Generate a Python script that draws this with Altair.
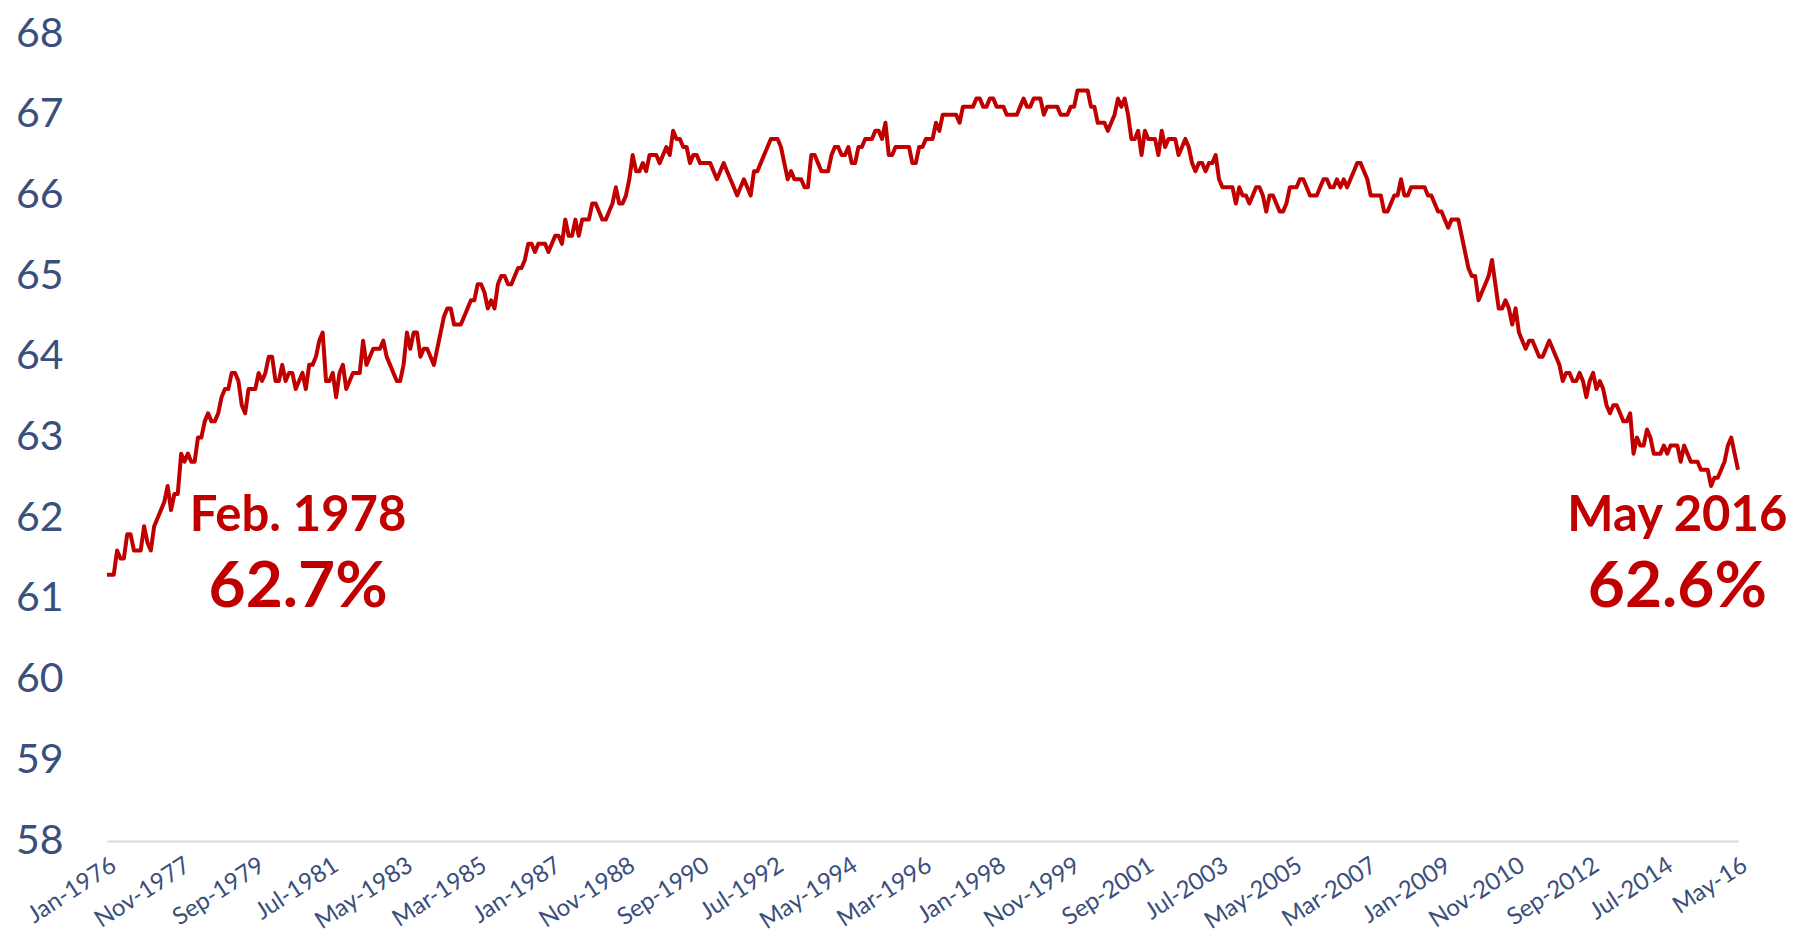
import altair as alt
import pandas as pd

# Civilian labor force participation rate (%), monthly, Jan 1976 - May 2016
RATE_1976_1979 = [
    61.3, 61.3, 61.3, 61.6, 61.5, 61.5, 61.8, 61.8, 61.6, 61.6, 61.6, 61.9,
    61.7, 61.6, 61.9, 62.0, 62.1, 62.2, 62.4, 62.1, 62.3, 62.3, 62.8, 62.7,
    62.8, 62.7, 62.7, 63.0, 63.0, 63.2, 63.3, 63.2, 63.2, 63.3, 63.5, 63.6,
    63.6, 63.8, 63.8, 63.7, 63.4, 63.3, 63.6, 63.6, 63.6, 63.8, 63.7, 63.8,
]
RATE_1980_1989 = [
    64.0, 64.0, 63.7, 63.7, 63.9, 63.7, 63.8, 63.8, 63.6, 63.7, 63.8, 63.6,
    63.9, 63.9, 64.0, 64.2, 64.3, 63.7, 63.7, 63.8, 63.5, 63.8, 63.9, 63.6,
    63.7, 63.8, 63.8, 63.8, 64.2, 63.9, 64.0, 64.1, 64.1, 64.1, 64.2, 64.0,
    63.9, 63.8, 63.7, 63.7, 63.9, 64.3, 64.1, 64.3, 64.3, 64.0, 64.1, 64.1,
    64.0, 63.9, 64.1, 64.3, 64.5, 64.6, 64.6, 64.4, 64.4, 64.4, 64.5, 64.6,
    64.7, 64.7, 64.9, 64.9, 64.8, 64.6, 64.7, 64.6, 64.9, 65.0, 65.0, 64.9,
    64.9, 65.0, 65.1, 65.1, 65.2, 65.4, 65.4, 65.3, 65.4, 65.4, 65.4, 65.3,
    65.4, 65.5, 65.5, 65.4, 65.7, 65.5, 65.5, 65.7, 65.5, 65.7, 65.7, 65.7,
    65.9, 65.9, 65.8, 65.7, 65.7, 65.8, 65.9, 66.1, 65.9, 65.9, 66.0, 66.2,
    66.5, 66.3, 66.3, 66.4, 66.3, 66.5, 66.5, 66.5, 66.4, 66.5, 66.6, 66.5,
]
RATE_1990_1999 = [
    66.8, 66.7, 66.7, 66.6, 66.6, 66.4, 66.5, 66.5, 66.4, 66.4, 66.4, 66.4,
    66.3, 66.2, 66.3, 66.4, 66.3, 66.2, 66.1, 66.0, 66.1, 66.2, 66.1, 66.0,
    66.3, 66.3, 66.4, 66.5, 66.6, 66.7, 66.7, 66.7, 66.6, 66.4, 66.2, 66.3,
    66.2, 66.2, 66.2, 66.1, 66.1, 66.5, 66.5, 66.4, 66.3, 66.3, 66.3, 66.5,
    66.6, 66.6, 66.5, 66.5, 66.6, 66.4, 66.4, 66.6, 66.6, 66.7, 66.7, 66.7,
    66.8, 66.8, 66.7, 66.9, 66.5, 66.5, 66.6, 66.6, 66.6, 66.6, 66.6, 66.4,
    66.4, 66.6, 66.6, 66.7, 66.7, 66.7, 66.9, 66.8, 67.0, 67.0, 67.0, 67.0,
    67.0, 66.9, 67.1, 67.1, 67.1, 67.1, 67.2, 67.2, 67.1, 67.1, 67.2, 67.2,
    67.1, 67.1, 67.1, 67.0, 67.0, 67.0, 67.0, 67.1, 67.2, 67.1, 67.1, 67.2,
    67.2, 67.2, 67.0, 67.1, 67.1, 67.1, 67.1, 67.0, 67.0, 67.0, 67.1, 67.1,
]
RATE_2000_2009 = [
    67.3, 67.3, 67.3, 67.3, 67.1, 67.1, 66.9, 66.9, 66.9, 66.8, 66.9, 67.0,
    67.2, 67.1, 67.2, 67.0, 66.7, 66.7, 66.8, 66.5, 66.8, 66.7, 66.7, 66.7,
    66.5, 66.8, 66.6, 66.7, 66.7, 66.7, 66.5, 66.6, 66.7, 66.6, 66.4, 66.3,
    66.4, 66.4, 66.3, 66.4, 66.4, 66.5, 66.2, 66.1, 66.1, 66.1, 66.1, 65.9,
    66.1, 66.0, 66.0, 65.9, 66.0, 66.1, 66.1, 66.0, 65.8, 66.0, 66.0, 65.9,
    65.8, 65.8, 65.9, 66.1, 66.1, 66.1, 66.2, 66.2, 66.1, 66.0, 66.0, 66.0,
    66.1, 66.2, 66.2, 66.1, 66.1, 66.2, 66.1, 66.2, 66.1, 66.2, 66.3, 66.4,
    66.4, 66.3, 66.2, 66.0, 66.0, 66.0, 66.0, 65.8, 65.8, 65.9, 66.0, 66.0,
    66.2, 66.0, 66.0, 66.1, 66.1, 66.1, 66.1, 66.1, 66.0, 66.0, 65.9, 65.8,
    65.8, 65.7, 65.6, 65.7, 65.7, 65.7, 65.5, 65.3, 65.1, 65.0, 65.0, 64.7,
]
RATE_2010_2016 = [
    64.8, 64.9, 65.0, 65.2, 64.9, 64.6, 64.6, 64.7, 64.6, 64.4, 64.6, 64.3,
    64.2, 64.1, 64.2, 64.2, 64.1, 64.0, 64.0, 64.1, 64.2, 64.1, 64.0, 63.9,
    63.7, 63.8, 63.8, 63.7, 63.7, 63.8, 63.7, 63.5, 63.7, 63.8, 63.6, 63.7,
    63.6, 63.4, 63.3, 63.4, 63.4, 63.3, 63.2, 63.2, 63.3, 62.8, 63.0, 62.9,
    62.9, 63.1, 63.0, 62.8, 62.8, 62.8, 62.9, 62.8, 62.9, 62.9, 62.9, 62.7,
    62.9, 62.8, 62.7, 62.7, 62.7, 62.6, 62.6, 62.6, 62.4, 62.5, 62.5, 62.6,
    62.7, 62.9, 63.0, 62.8, 62.6,
]

TICK_LABELS = [
    "Jan-1976", "Nov-1977", "Sep-1979", "Jul-1981", "May-1983", "Mar-1985",
    "Jan-1987", "Nov-1988", "Sep-1990", "Jul-1992", "May-1994", "Mar-1996",
    "Jan-1998", "Nov-1999", "Sep-2001", "Jul-2003", "May-2005", "Mar-2007",
    "Jan-2009", "Nov-2010", "Sep-2012", "Jul-2014", "May-16",
]
TICK_STEP = 22
Y_TICKS = [58, 59, 60, 61, 62, 63, 64, 65, 66, 67, 68]

NOTE_TITLE = ["Feb. 1978", "May 2016"]
NOTE_VALUE = ["62.7%", "62.6%"]
NOTE_MONTH = [56.7, 466.0]
NOTE_TITLE_Y = [61.84, 61.84]
NOTE_VALUE_Y = [60.90, 60.90]

RED = "#c00000"
AXIS_TEXT = "#3b4f7c"
FONT = "Lato"

rates = RATE_1976_1979 + RATE_1980_1989 + RATE_1990_1999 + RATE_2000_2009 + RATE_2010_2016
months = pd.date_range("1976-01-01", periods=len(rates), freq="MS").strftime("%Y-%m")
df = pd.DataFrame({"idx": range(len(rates)), "month": months, "rate": rates})

last = len(rates) - 1
xscale = alt.Scale(domain=[0, last], nice=False, zero=False)
yscale = alt.Scale(domain=[58, 68], nice=False, zero=False)

label_array = "[" + ",".join("'%s'" % s for s in TICK_LABELS) + "]"

line = alt.Chart(df).mark_line(color=RED, strokeWidth=4, strokeJoin="round").encode(
    x=alt.X("idx:Q", scale=xscale, title=None,
            axis=alt.Axis(values=list(range(0, last + 1, TICK_STEP)),
                          labelExpr=label_array + "[round(datum.value/%d)]" % TICK_STEP,
                          labelAngle=-33, labelAlign="right", labelBaseline="top",
                          labelPadding=12, labelFontSize=24, labelColor=AXIS_TEXT,
                          labelFont=FONT, labelOverlap=False, labelFlush=False,
                          ticks=False, grid=False, domainColor="#d9d9d9", domainWidth=2)),
    y=alt.Y("rate:Q", scale=yscale, title=None,
            axis=alt.Axis(values=Y_TICKS, format="d", labelFontSize=41, labelColor=AXIS_TEXT,
                          labelFont=FONT, labelPadding=44, labelFlush=False,
                          labelOverlap=False, ticks=False, grid=False, domain=False)),
)

notes = pd.DataFrame({"idx": NOTE_MONTH, "title": NOTE_TITLE, "value": NOTE_VALUE,
                      "ty": NOTE_TITLE_Y, "vy": NOTE_VALUE_Y})

title_text = alt.Chart(notes).mark_text(
    color=RED, font=FONT, fontWeight="bold", fontSize=49, align="center", baseline="alphabetic"
).encode(
    x=alt.X("idx:Q", scale=xscale, title=None),
    y=alt.Y("ty:Q", scale=yscale, title=None),
    text="title:N",
)

value_text = alt.Chart(notes).mark_text(
    color=RED, font=FONT, fontWeight="bold", fontSize=64, align="center", baseline="alphabetic"
).encode(
    x=alt.X("idx:Q", scale=xscale, title=None),
    y=alt.Y("vy:Q", scale=yscale, title=None),
    text="value:N",
)

chart = alt.layer(line, title_text, value_text).properties(
    width=1631, height=807,
    padding={"left": 99, "top": 26, "right": 50, "bottom": 92},
    autosize=alt.AutoSizeParams(type="none"),
    background="white",
).configure_view(stroke=None)

chart.save("out.html", embed_options={"renderer": "svg", "actions": False})
